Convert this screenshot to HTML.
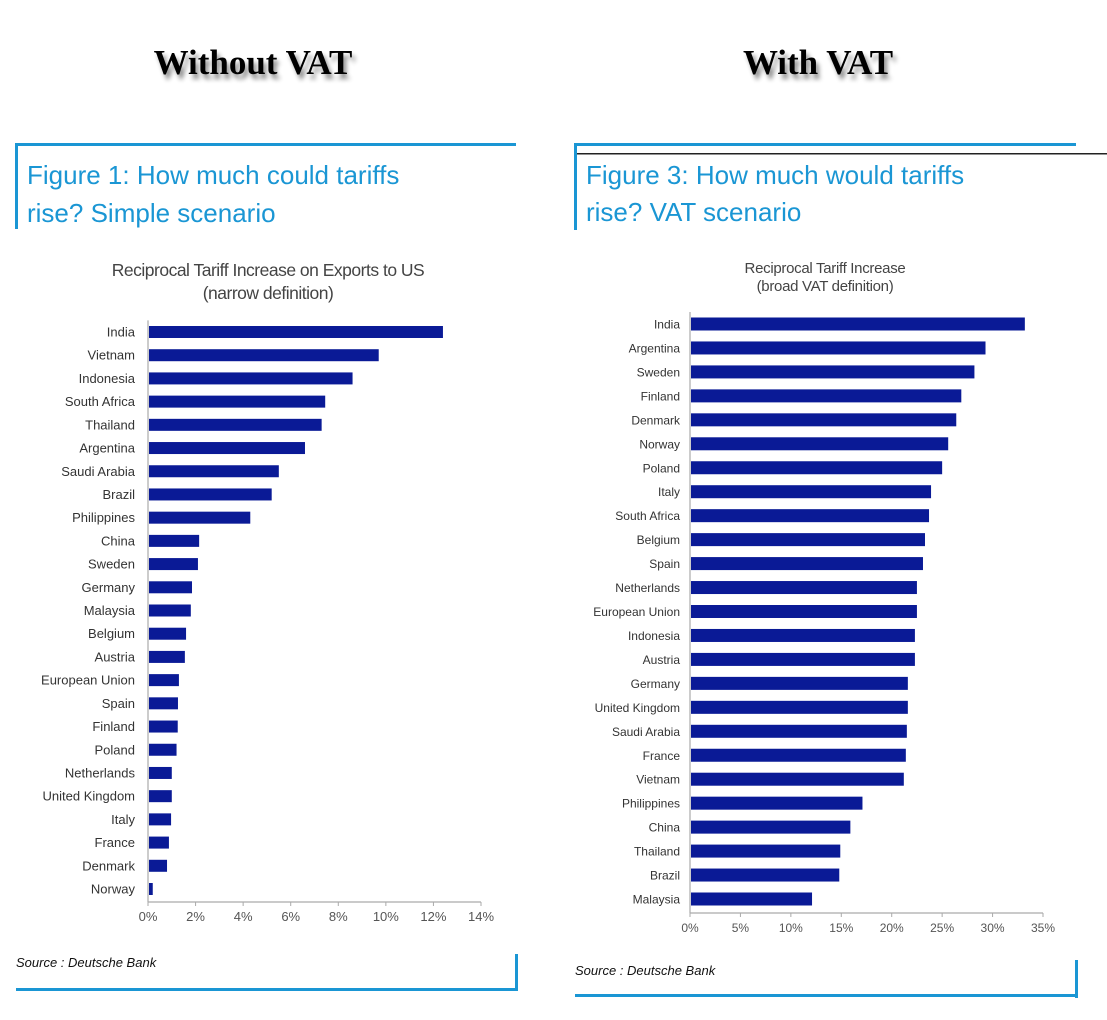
<!DOCTYPE html>
<html><head><meta charset="utf-8"><style>
body{margin:0;background:#fff;width:1107px;height:1020px;overflow:hidden}
svg{display:block}
</style></head><body>
<svg id="s" width="1107" height="1020" xmlns="http://www.w3.org/2000/svg" font-family="Liberation Sans, sans-serif">
<defs><filter id="sh" x="-10%" y="-30%" width="130%" height="180%"><feGaussianBlur in="SourceAlpha" stdDeviation="2.5"/><feOffset dx="3" dy="5"/><feComponentTransfer><feFuncA type="linear" slope="0.45"/></feComponentTransfer><feMerge><feMergeNode/><feMergeNode in="SourceGraphic"/></feMerge></filter></defs>
<text x="253" y="74" text-anchor="middle" font-family="Liberation Serif, serif" font-weight="bold" font-size="35" filter="url(#sh)">Without VAT</text>
<text x="818" y="74" text-anchor="middle" font-family="Liberation Serif, serif" font-weight="bold" font-size="35" filter="url(#sh)">With VAT</text>
<g fill="#1a96d4">
<rect x="15" y="143" width="501" height="3"/><rect x="15" y="143" width="3" height="86"/>
<rect x="515" y="954" width="3" height="37"/><rect x="16" y="988" width="502" height="3"/>
</g>
<g fill="#1a96d4">
<rect x="574" y="143" width="502" height="3"/><rect x="574" y="143" width="3" height="87"/>
<rect x="1075" y="960" width="3" height="38"/><rect x="575" y="994" width="503" height="3"/>
</g>
<rect x="577" y="153" width="530" height="1.5" fill="#222"/>
<text x="27" y="184" font-size="26" fill="#1a96d4">Figure 1: How much could tariffs</text>
<text x="27" y="222" font-size="26" fill="#1a96d4">rise? Simple scenario</text>
<text x="586" y="184" font-size="26" fill="#1a96d4">Figure 3: How much would tariffs</text>
<text x="586" y="221" font-size="26" fill="#1a96d4">rise? VAT scenario</text>
<text x="268" y="276" text-anchor="middle" font-size="17.5" fill="#444" letter-spacing="-0.5">Reciprocal Tariff Increase on Exports to US</text>
<text x="268" y="299" text-anchor="middle" font-size="17.5" fill="#444" letter-spacing="-0.5">(narrow definition)</text>
<text x="825" y="273" text-anchor="middle" font-size="15" fill="#444" letter-spacing="-0.3">Reciprocal Tariff Increase</text>
<text x="825" y="291" text-anchor="middle" font-size="15" fill="#444" letter-spacing="-0.3">(broad VAT definition)</text>
<text x="16" y="967" font-size="13" font-style="italic" fill="#111">Source : Deutsche Bank</text>
<text x="575" y="975" font-size="13" font-style="italic" fill="#111">Source : Deutsche Bank</text>
<g id="lc"></g>
<g id="rc"></g>
</svg>
<script>
const leftCategories=["India","Vietnam","Indonesia","South Africa","Thailand","Argentina","Saudi Arabia","Brazil","Philippines","China","Sweden","Germany","Malaysia","Belgium","Austria","European Union","Spain","Finland","Poland","Netherlands","United Kingdom","Italy","France","Denmark","Norway"];
const leftValues=[12.4,9.7,8.6,7.45,7.3,6.6,5.5,5.2,4.3,2.15,2.1,1.85,1.8,1.6,1.55,1.3,1.26,1.25,1.2,1.0,1.0,0.97,0.88,0.8,0.2];
const leftTicks=[0,2,4,6,8,10,12,14];
const rightCategories=["India","Argentina","Sweden","Finland","Denmark","Norway","Poland","Italy","South Africa","Belgium","Spain","Netherlands","European Union","Indonesia","Austria","Germany","United Kingdom","Saudi Arabia","France","Vietnam","Philippines","China","Thailand","Brazil","Malaysia"];
const rightValues=[33.2,29.3,28.2,26.9,26.4,25.6,25,23.9,23.7,23.3,23.1,22.5,22.5,22.3,22.3,21.6,21.6,21.5,21.4,21.2,17.1,15.9,14.9,14.8,12.1];
const rightTicks=[0,5,10,15,20,25,30,35];
const NS="http://www.w3.org/2000/svg";
function mk(p,t,a){const e=document.createElementNS(NS,t);for(const k in a)e.setAttribute(k,a[k]);p.appendChild(e);return e;}
function chart(g,cats,vals,ticks,o){
  const x=v=>o.x0+(v-ticks[0])/(ticks[ticks.length-1]-ticks[0])*(o.x1-o.x0);
  const y=i=>o.y0+i*(o.y1-o.y0)/(cats.length-1);
  const step=(o.y1-o.y0)/(cats.length-1);
  const ax=mk(g,'line',{x1:o.x0,y1:o.axisY,x2:o.x1,y2:o.axisY,stroke:'#aaa','stroke-width':1.2});
  
  
  const ay=mk(g,'line',{x1:o.x0,y1:o.y0-step/2,x2:o.x0,y2:o.axisY,stroke:'#aaa','stroke-width':1.2});
  
  
  ticks.forEach(t=>{
    const tl=mk(g,'line',{x1:x(t),y1:o.axisY,x2:x(t),y2:o.axisY+4,stroke:'#aaa'});
    
    
    const tx=mk(g,'text',{x:x(t),y:o.axisY+19,'text-anchor':'middle','font-size':o.fs,fill:'#555'});
    tx.textContent=t+'%';
    
    
  });
  cats.forEach((c,i)=>{
    const r=mk(g,'rect',{x:o.x0+1,y:y(i)-o.bh/2,width:Math.max(0,x(vals[i])-o.x0-1),height:o.bh,fill:'#0a1a96'});
    
    
    const l=mk(g,'text',{x:o.lx,y:y(i)+4.5,'text-anchor':'end','font-size':o.fs,fill:'#333'});
    l.textContent=c;
    
    
  });
}
chart(document.getElementById('lc'),leftCategories,leftValues,leftTicks,{x0:148,x1:481,y0:332,y1:889,axisY:902,bh:12,lx:135,fs:13});
chart(document.getElementById('rc'),rightCategories,rightValues,rightTicks,{x0:690,x1:1043,y0:324,y1:899,axisY:913,bh:13,lx:680,fs:12});
</script>
</body></html>
